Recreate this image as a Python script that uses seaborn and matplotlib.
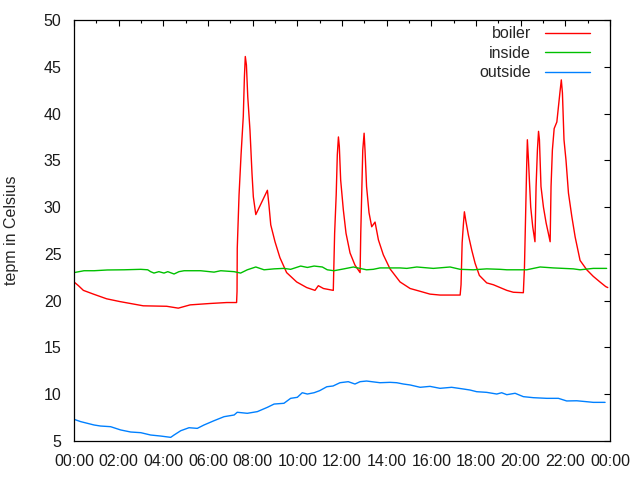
import matplotlib
matplotlib.use("Agg")
import matplotlib.pyplot as plt
from matplotlib.ticker import MultipleLocator, FixedLocator
import seaborn as sns
import pandas as pd

# ---------------- data (hours since midnight, degrees Celsius) ----------------
boiler_t = [0.0, 0.2, 0.42, 0.87, 1.46, 2.06, 3.1, 4.15, 4.67, 5.2, 6.1, 6.84, 7.28,
            7.30, 7.31, 7.39, 7.48, 7.58, 7.63, 7.67, 7.72, 7.78, 7.88, 7.97, 8.03,
            8.14, 8.66, 8.73, 8.81, 9.0, 9.22, 9.52, 9.97, 10.42, 10.79, 10.94, 11.17,
            11.61, 11.67, 11.74, 11.79, 11.84, 11.88, 11.94, 12.06, 12.18, 12.36, 12.58,
            12.81, 12.84, 12.93, 12.99, 13.03, 13.1, 13.21, 13.33, 13.48, 13.63, 13.85,
            14.15, 14.6, 15.05, 15.5, 15.94, 16.39, 17.29, 17.33, 17.38, 17.44, 17.48,
            17.54, 17.66, 17.81, 17.96, 18.15, 18.48, 18.78, 19.08, 19.38, 19.67, 20.12,
            20.17, 20.22, 20.27, 20.3, 20.35, 20.39, 20.45, 20.54, 20.64, 20.69, 20.75,
            20.8, 20.84, 20.91, 21.02, 21.14, 21.24, 21.32, 21.36, 21.42, 21.5, 21.62,
            21.69, 21.76, 21.82, 21.87, 21.94, 22.03, 22.14, 22.29, 22.44, 22.66, 22.96,
            23.25, 23.55, 23.81, 23.9]
boiler_v = [22.0, 21.6, 21.1, 20.7, 20.2, 19.9, 19.45, 19.4, 19.2, 19.55, 19.7, 19.8, 19.8,
            21.0, 25.6, 31.3, 35.6, 39.7, 43.9, 46.1, 45.2, 41.8, 38.2, 33.6, 31.1,
            29.2, 31.8, 30.2, 28.1, 26.3, 24.6, 23.0, 22.0, 21.4, 21.1, 21.6, 21.3,
            21.1, 27.2, 31.3, 35.6, 37.5, 36.5, 32.9, 29.7, 27.2, 25.1, 23.8,
            23.0, 27.2, 36.1, 37.9, 36.1, 32.2, 29.4, 27.9, 28.4, 26.5, 24.9,
            23.4, 22.0, 21.3, 21.0, 20.7, 20.6, 20.6, 21.7, 26.2, 28.3, 29.5,
            28.6, 27.0, 25.4, 24.0, 22.7, 21.9, 21.7, 21.4, 21.1, 20.9, 20.85,
            23.6, 29.0, 34.5, 37.2, 35.0, 32.9, 30.0, 27.9, 26.3, 32.2, 36.1,
            38.1, 37.2, 32.2, 30.0, 28.3, 27.2, 26.3, 32.2, 36.1, 38.4, 39.1,
            40.7, 42.3, 43.6, 42.2, 37.2, 35.0, 31.5, 29.0, 26.8, 24.3, 23.3,
            22.6, 22.0, 21.5, 21.4]

inside_t = [0.0, 0.45, 0.9, 1.49, 2.24, 2.99, 3.3, 3.43, 3.58, 3.8, 4.03, 4.2, 4.48, 4.7,
            4.93, 5.67, 6.27, 6.57, 7.17, 7.46, 7.76, 8.14, 8.51, 8.96, 9.4, 9.7, 10.15,
            10.45, 10.75, 11.12, 11.34, 11.64, 12.09, 12.51, 12.8, 13.1, 13.4, 13.7, 14.6,
            14.9, 15.35, 16.09, 16.84, 17.29, 17.88, 18.48, 19.08, 19.38, 20.27, 20.87,
            21.47, 22.36, 22.66, 23.25, 23.85]
inside_v = [23.0, 23.2, 23.2, 23.28, 23.3, 23.35, 23.3, 23.1, 22.95, 23.1, 22.95, 23.1, 22.85, 23.1,
            23.2, 23.2, 23.05, 23.2, 23.1, 22.95, 23.3, 23.6, 23.3, 23.4, 23.45, 23.35, 23.7,
            23.55, 23.7, 23.6, 23.3, 23.2, 23.4, 23.6, 23.45, 23.3, 23.35, 23.5, 23.5,
            23.45, 23.6, 23.45, 23.6, 23.35, 23.3, 23.4, 23.35, 23.3, 23.3, 23.6,
            23.5, 23.4, 23.3, 23.45, 23.45]

outside_t = [0.0, 0.3, 0.6, 0.9, 1.19, 1.64, 2.09, 2.54, 2.99, 3.43, 3.88, 4.33, 4.48, 4.78,
             5.15, 5.52, 5.82, 6.27, 6.72, 7.17, 7.31, 7.76, 8.21, 8.66, 8.96, 9.4, 9.7,
             10.0, 10.22, 10.45, 10.75, 11.0, 11.32, 11.6, 11.91, 12.28, 12.58, 12.81,
             13.1, 13.7, 14.15, 14.45, 14.75, 15.05, 15.5, 15.94, 16.39, 16.91, 17.43,
             17.73, 18.03, 18.48, 18.93, 19.15, 19.38, 19.75, 20.12, 20.57, 21.17, 21.69,
             22.06, 22.51, 22.96, 23.25, 23.78]
outside_v = [7.32, 7.07, 6.89, 6.71, 6.6, 6.53, 6.18, 5.96, 5.89, 5.64, 5.53, 5.39, 5.64, 6.1,
             6.42, 6.35, 6.71, 7.17, 7.6, 7.78, 8.07, 7.96, 8.14, 8.6, 8.95, 9.03, 9.56,
             9.67, 10.16, 10.02, 10.16, 10.38, 10.8, 10.88, 11.23, 11.34, 11.09, 11.34,
             11.41, 11.23, 11.27, 11.23, 11.09, 10.99, 10.74, 10.84, 10.63, 10.74, 10.56,
             10.45, 10.27, 10.2, 10.02, 10.16, 9.95, 10.1, 9.74, 9.63, 9.56, 9.56,
             9.28, 9.3, 9.2, 9.13, 9.13]

series_names = ["boiler", "inside", "outside"]
series_colors = ["#ff0000", "#00c000", "#0080ff"]
x_tick_hours = list(range(0, 25, 2))
x_tick_labels = ["00:00", "02:00", "04:00", "06:00", "08:00", "10:00", "12:00",
                 "14:00", "16:00", "18:00", "20:00", "22:00", "00:00"]
y_ticks = list(range(5, 51, 5))
y_label = "tepm in Celsius"

# ---------------- build long-form table ----------------
frames = []
for name, t, v in zip(series_names, [boiler_t, inside_t, outside_t],
                      [boiler_v, inside_v, outside_v]):
    frames.append(pd.DataFrame({"hour": t, "temp": v, "series": name}))
df = pd.concat(frames, ignore_index=True)

sns.set_style("white")
plt.rcParams["font.family"] = ["Liberation Sans", "DejaVu Sans"]
plt.rcParams["font.size"] = 11.5

fig = plt.figure(figsize=(6.4, 4.8), dpi=100)
ax = fig.add_axes([74 / 640, 1 - 441 / 480, (610 - 74) / 640, (441 - 20) / 480])

sns.lineplot(data=df, x="hour", y="temp", hue="series", hue_order=series_names,
             palette=dict(zip(series_names, series_colors)), estimator=None,
             sort=False, linewidth=1.0, ax=ax)

ax.set_xlim(0, 24)
ax.set_ylim(5, 50)
ax.xaxis.set_major_locator(FixedLocator(x_tick_hours))
ax.set_xticklabels(x_tick_labels)
ax.xaxis.set_minor_locator(MultipleLocator(1))
ax.set_yticks(y_ticks)
ax.set_xlabel("")
ax.set_ylabel(y_label, fontsize=11.5)
ax.yaxis.set_label_coords(-0.103, 0.5)

for s in ax.spines.values():
    s.set_visible(True)
    s.set_color("black")
    s.set_linewidth(0.9)

ax.tick_params(which="major", direction="in", top=True, right=True,
               length=4, width=0.8, color="black", labelsize=11.5, pad=9,
               labelcolor="#1a1a1a")
ax.tick_params(which="minor", direction="in", top=True, right=True,
               length=2, width=0.8, color="black")
ax.tick_params(axis="x", which="major", pad=9)

leg = ax.legend(loc="upper right", bbox_to_anchor=(0.9627, 0.985), frameon=False,
                markerfirst=False, handlelength=2.8, handletextpad=0.9,
                labelspacing=0.28, borderpad=0, borderaxespad=0, fontsize=11.5)
for line in leg.get_lines():
    line.set_linewidth(1.0)

fig.savefig("out.png", dpi=100)
